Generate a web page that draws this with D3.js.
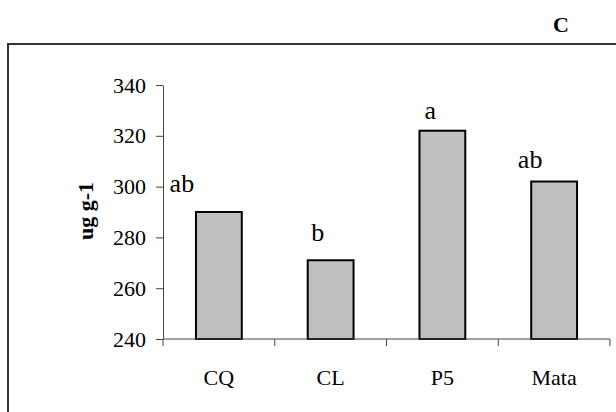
<!DOCTYPE html>
<html>
<head>
<meta charset="utf-8">
<script src="https://cdn.jsdelivr.net/npm/d3@7"></script>
<style>
  html, body { margin: 0; padding: 0; background: #fff; }
  svg { display: block; }
  svg text { font-family: "Liberation Serif", Tinos, "Times New Roman", Times, "DejaVu Serif", serif !important; fill: #000; }
</style>
</head>
<body>
<svg id="chart" width="616" height="412"></svg>
<script>
// Site categories and measured concentration (ug g-1)
const categories = ["CQ", "CL", "P5", "Mata"];
const values = [290, 271, 322, 302];
// Significance letters shown above each bar
const letters = ["ab", "b", "a", "ab"];
const yTicks = [240, 260, 280, 300, 320, 340];
const panelLetter = "C";
const yTitle = "ug g-1";

(function draw() {
  const serif = '"Liberation Serif", Tinos, "Times New Roman", Times, "DejaVu Serif", serif';
  const svg = d3.select("#chart");

  // Panel frame (runs off the right and bottom edges)
  svg.append("rect")
    .attr("x", 8).attr("y", 44)
    .attr("width", 640).attr("height", 420)
    .attr("fill", "none")
    .attr("stroke", "#333")
    .attr("stroke-width", 2);

  // Panel letter
  svg.append("text")
    .attr("x", 561).attr("y", 32)
    .attr("text-anchor", "middle")
    .attr("font-family", serif)
    .attr("font-weight", "bold")
    .attr("font-size", 22)
    .text(panelLetter);

  const plotLeft = 163, plotRight = 610, plotTop = 85, plotBottom = 339;

  const x = d3.scaleBand().domain(categories).range([plotLeft, plotRight])
    .paddingInner(0.59).paddingOuter(0.295);
  const xAxisScale = d3.scaleBand().domain(categories).range([plotLeft, plotRight]);
  const y = d3.scaleLinear().domain([240, 340]).range([plotBottom, plotTop]);

  // Bars
  svg.append("g").selectAll("rect")
    .data(categories)
    .join("rect")
    .attr("x", d => x(d))
    .attr("y", (d, i) => y(values[i]))
    .attr("width", x.bandwidth())
    .attr("height", (d, i) => y(240) - y(values[i]))
    .attr("fill", "#c0c0c0")
    .attr("stroke", "#000")
    .attr("stroke-width", 2);

  // Y axis
  const yAxis = svg.append("g")
    .attr("transform", `translate(${plotLeft},0)`)
    .call(d3.axisLeft(y).tickValues(yTicks).tickSize(7).tickPadding(10).tickSizeOuter(0));
  yAxis.attr("font-family", serif).attr("font-size", 22);
  yAxis.select(".domain").attr("stroke", "#444");
  yAxis.selectAll(".tick line").attr("stroke", "#444");
  yAxis.selectAll(".tick text").attr("fill", "#000");

  // X axis: ticks sit on the category boundaries
  const xAxis = svg.append("g")
    .attr("transform", `translate(0,${plotBottom})`);
  xAxis.append("line")
    .attr("x1", plotLeft).attr("x2", plotRight)
    .attr("stroke", "#444");
  const bounds = categories.map(c => xAxisScale(c)).concat([plotRight]);
  xAxis.selectAll("line.tick")
    .data(bounds)
    .join("line")
    .attr("class", "tick")
    .attr("x1", d => d).attr("x2", d => d)
    .attr("y1", 0).attr("y2", 7)
    .attr("stroke", "#444");
  xAxis.selectAll("text")
    .data(categories)
    .join("text")
    .attr("x", d => xAxisScale(d) + xAxisScale.bandwidth() / 2)
    .attr("y", 46)
    .attr("text-anchor", "middle")
    .attr("font-family", serif)
    .attr("font-size", 22)
    .text(d => d);

  // Significance letters, nudged as laid out in the figure
  const letterDx = [-37, -13, -12, -24];
  const letterGap = [20, 19, 12, 14];
  svg.append("g").selectAll("text")
    .data(categories)
    .join("text")
    .attr("x", (d, i) => x(d) + x.bandwidth() / 2 + letterDx[i])
    .attr("y", (d, i) => y(values[i]) - letterGap[i])
    .attr("text-anchor", "middle")
    .attr("font-family", serif)
    .attr("font-size", 26)
    .text((d, i) => letters[i]);

  // Y axis title
  svg.append("text")
    .attr("transform", `translate(93,211) rotate(-90)`)
    .attr("text-anchor", "middle")
    .attr("font-family", serif)
    .attr("font-weight", "bold")
    .attr("font-size", 22)
    .text(yTitle);
})();
</script>
</body>
</html>
